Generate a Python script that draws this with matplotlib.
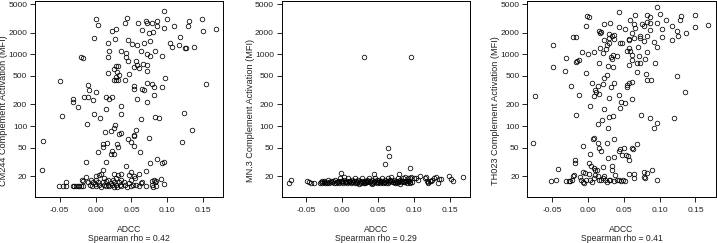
import matplotlib
matplotlib.use("Agg")
import matplotlib.pyplot as plt
from matplotlib.ticker import FixedLocator, FixedFormatter, NullLocator

narrow = ['Liberation Sans Narrow', 'Liberation Sans']
plain = ['Liberation Sans']

# CM244 vs ADCC
x1 = [
    0.096, 0.000, 0.044, 0.004, 0.070, 0.059, 0.086, 0.071, 0.100, 0.041,
    0.078, 0.085, 0.109, 0.130, 0.129, 0.149, 0.150, 0.168, 0.028, 0.023,
    0.095, 0.064, 0.075, 0.080, -0.002, 0.027, 0.045, 0.017, 0.076, 0.104,
    0.118, 0.051, 0.058, 0.067, 0.107, 0.116, 0.124, 0.126, 0.137, 0.018,
    0.035, 0.063, 0.083, 0.043, -0.020, -0.017, 0.017, 0.042, 0.071, 0.076,
    0.092, 0.056, 0.045, 0.058, 0.066, 0.071, 0.031, 0.028, 0.053, 0.072,
    0.060, 0.025, 0.017, 0.030, 0.033, 0.046, 0.028, 0.025, 0.028, 0.031,
    0.041, -0.050, 0.097, 0.154, -0.011, 0.054, 0.071, 0.079, 0.082, 0.093,
    0.054, 0.065, 0.067, -0.009, 0.000, -0.016, -0.010, 0.014, 0.023, 0.018,
    -0.003, -0.031, -0.031, 0.058, 0.071, 0.081, -0.024, 0.014, 0.036, -0.002,
    0.035, -0.047, 0.006, 0.083, 0.089, 0.123, 0.063, -0.012, 0.027, 0.025,
    0.022, 0.013, 0.057, 0.134, 0.032, 0.036, 0.053, 0.054, -0.074, 0.075,
    0.045, 0.049, 0.120, 0.016, 0.011, 0.030, 0.010, 0.053, 0.031, 0.004,
    0.023, 0.021, 0.025, 0.062, -0.014, 0.014, 0.042, 0.076, 0.086, 0.092,
    0.096, -0.075, 0.011, 0.050, 0.070, 0.091, 0.026, 0.031, 0.036, 0.046,
    0.054, 0.061, -0.013, 0.005, 0.007, 0.000,
    -0.051, -0.045, -0.041, -0.032, -0.030, -0.027, -0.025, -0.023, -0.020, -0.017,
    -0.041, -0.011, -0.008, -0.005, -0.003, -0.001, 0.001, 0.003, 0.005, 0.007,
    0.010, 0.012, 0.014, 0.015, 0.017, 0.019, 0.021, 0.023, 0.025, 0.026,
    0.028, 0.030, 0.032, 0.034, 0.036, 0.039, 0.041, 0.044, 0.047, 0.049,
    0.052, 0.056, 0.060, 0.063, 0.065, 0.070, 0.078, 0.079, 0.080, 0.083,
    0.084, 0.096, -0.019, -0.018, -0.007, 0.000, 0.012, 0.017, 0.024, 0.029,
    0.035, 0.049, 0.055, 0.082, 0.084,
]
y1 = [
    4030, 3120, 3220, 2570, 2950, 2770, 2950, 2700, 3120, 2770,
    2770, 2490, 2490, 2950, 2490, 3120, 2140, 2240, 2240, 2110,
    2340, 2170, 2010, 2050, 1670, 1640, 1600, 1460, 1520, 1460,
    1750, 1380, 1340, 1430, 1270, 1350, 1210, 1230, 1270, 1110,
    1110, 1110, 1110, 1030, 930, 900, 930, 910, 1000, 950,
    950, 817, 800, 718, 730, 700, 690, 690, 673, 592,
    640, 620, 555, 570, 515, 530, 488, 438, 438, 438,
    438, 420, 470, 385, 369, 365, 403, 392, 347, 347,
    325, 325, 317, 317, 298, 256, 256, 256, 256, 240,
    234, 237, 218, 240, 218, 270, 182, 173, 190, 147,
    147, 139, 131, 135, 129, 152, 125, 106, 102, 93,
    86, 83, 88, 88, 77, 80, 75, 73, 61, 67,
    65, 60, 60, 58, 56, 56, 51, 53, 51, 43,
    45, 41, 41, 44, 31, 31, 28, 30, 35, 30,
    31, 24, 24, 23, 23.5, 18, 21.5, 20.7, 21.5, 20.7,
    20, 21.5, 19.1, 20.7, 21.5, 20,
    14.5, 14.5, 14.5, 14.5, 14.5, 14.5, 14.5, 14.5, 14.5, 14.5,
    16.6, 16.4, 15.2, 14.5, 16.4, 15.5, 14.5, 16.4, 15.2, 14.0,
    16.4, 15.2, 14.5, 16.8, 15.2, 14.5, 16.0, 15.2, 14.2, 16.4,
    15.2, 14.2, 16.4, 15.2, 14.5, 16.4, 15.2, 14.0, 16.0, 14.5,
    15.2, 15.2, 14.5, 15.8, 16.4, 14.5, 16.8, 15.2, 14.0, 16.4,
    14.5, 15.5, 17.9, 16.8, 17.6, 17.6, 18.5, 17.6, 17.9, 18.5,
    17.6, 17.6, 18.5, 17.6, 17.2,
]

# MN.3 vs ADCC
x2 = [
    0.030, 0.096, 0.063, 0.065, 0.059, 0.095, -0.002, 0.044, 0.079, 0.108,
    0.135, 0.149, 0.168, -0.072, -0.075, 0.151, 0.154, 0.134, 0.128, 0.124,
    0.119, 0.117, 0.103, 0.094, -0.049, -0.047, -0.044, -0.040,
    -0.031, -0.030, -0.028, -0.026, -0.024, -0.022, -0.020, -0.018, -0.016, -0.014,
    -0.012, -0.010, -0.008, -0.006, -0.004, -0.003, -0.001, 0.000, 0.001, 0.002,
    0.003, 0.004, 0.006, 0.007, 0.008, 0.010, 0.011, 0.012, 0.014, 0.015,
    0.017, 0.018, 0.019, 0.021, 0.022, 0.023, 0.025, 0.026, 0.027, 0.029,
    0.031, 0.032, 0.034, 0.035, 0.037, 0.038, 0.040, 0.041, 0.042, 0.044,
    0.045, 0.046, 0.048, 0.049, 0.050, 0.052, 0.053, 0.055, 0.056, 0.058,
    0.059, 0.061, 0.062, 0.064, 0.065, 0.067, 0.068, 0.070, 0.072, 0.073,
    0.075, 0.077, 0.078, 0.080, 0.081, 0.083, 0.084, 0.086, 0.087, 0.089,
    0.090, 0.092, 0.093, 0.095, 0.096, 0.097, 0.100, 0.105, 0.115, 0.118,
    0.120, 0.122, 0.125, 0.130, 0.137,
    -0.029, -0.025, -0.021, -0.017, -0.013, -0.009, -0.005, -0.002, 0.005, 0.009,
    0.013, 0.016, 0.020, 0.024, 0.028, 0.030, 0.033, 0.036, 0.039, 0.043,
    0.047, 0.051, 0.054, 0.057, 0.060, 0.063, 0.066, 0.069, 0.071, 0.074,
    0.076, 0.079, 0.082, 0.085, 0.088, 0.091, 0.094,
]
y2 = [
    929, 929, 48.6, 38.5, 29.4, 26.1, 22.3, 21.3, 21.3, 20.1,
    18.2, 20.0, 19.1, 17.9, 16.1, 18.2, 17.0, 16.1, 19.0, 17.2,
    16.1, 19.1, 18.5, 19.0, 17.2, 16.6, 16.1, 16.1,
    16.1, 16.6, 16.1, 17.2, 16.1, 16.6, 17.9, 16.1, 17.2, 16.6,
    16.1, 17.9, 16.6, 17.2, 16.1, 18.5, 16.6, 17.2, 16.1, 19.5,
    17.9, 16.6, 17.2, 16.1, 18.5, 16.6, 17.2, 16.1, 17.9, 16.6,
    18.5, 16.1, 17.2, 16.6, 17.9, 15.6, 17.2, 16.1, 18.5, 16.6,
    17.2, 16.1, 17.9, 16.6, 18.5, 17.2, 16.1, 15.6, 17.9, 16.6,
    18.5, 17.2, 16.1, 17.9, 16.6, 17.2, 16.1, 18.5, 17.2, 16.6,
    17.9, 16.1, 17.2, 18.5, 16.6, 17.2, 19.1, 16.6, 17.9, 16.1,
    17.2, 18.5, 16.6, 17.9, 15.6, 17.2, 18.5, 16.6, 19.1, 17.2,
    16.1, 18.5, 17.2, 16.1, 19.1, 16.6, 18.5, 17.9, 18.5, 17.2,
    16.6, 17.2, 17.9, 19.5, 18.2,
    17.2, 16.6, 16.1, 16.6, 17.2, 16.1, 16.6, 17.2, 16.6, 17.2,
    16.6, 17.2, 16.1, 16.6, 17.2, 16.1, 16.6, 17.2, 16.6, 16.1,
    16.6, 17.9, 16.6, 16.1, 16.6, 16.1, 17.9, 17.2, 16.6, 16.6,
    16.1, 17.2, 16.6, 17.2, 16.6, 17.2, 16.6,
]

# TH023 vs ADCC
x3 = [
    0.097, 0.043, -0.001, 0.002, 0.066, 0.083, 0.100, 0.086, 0.130, 0.150,
    0.031, 0.023, 0.059, 0.064, 0.075, 0.083, 0.087, 0.096, 0.109, 0.129,
    0.167, 0.150, 0.117, -0.002, 0.044, 0.052, 0.066, 0.078, 0.087, 0.104,
    0.124, 0.137, 0.016, 0.017, 0.018, 0.029, 0.062, 0.072, 0.083, -0.021,
    -0.017, 0.033, 0.036, 0.064, 0.072, 0.104, 0.126, 0.029, 0.037, 0.057,
    0.022, 0.057, 0.117, 0.078, 0.030, 0.045, 0.092, 0.047, -0.049, 0.017,
    0.027, 0.058, 0.070, 0.097, 0.009, -0.008, 0.025, 0.054, 0.059, 0.083,
    0.021, 0.000, 0.035, -0.030, 0.032, 0.041, 0.062, 0.071, 0.034, -0.015,
    -0.012, -0.017, 0.062, 0.080, 0.016, 0.069, 0.072, 0.093, 0.028, 0.035,
    0.058, -0.048, -0.032, -0.002, 0.068, 0.081, 0.027, 0.124, 0.022, 0.083,
    0.088, 0.062, 0.057, 0.006, 0.036, 0.055, 0.021, -0.024, 0.014, 0.054,
    0.032, 0.010, 0.012, 0.135, 0.009, -0.012, -0.074, 0.044, 0.016, 0.029,
    0.062, 0.046, 0.052, 0.003, 0.045, 0.023, -0.016, 0.035, 0.030, 0.074,
    0.086, 0.120, 0.020, 0.014, 0.096, 0.092, 0.028, 0.009, 0.007, 0.037,
    -0.076, -0.007, 0.014, 0.027, 0.069, 0.050, 0.062, 0.063, 0.045, 0.016,
    0.018, 0.044, 0.003, 0.047, 0.036, 0.056, 0.053, 0.057, 0.028, -0.018,
    -0.018, 0.001, 0.005, 0.034, 0.021, -0.042, 0.008, 0.010, 0.013, 0.034,
    0.090, -0.007, -0.004, -0.019, -0.021, 0.001, 0.010, 0.014, 0.023, 0.038,
    0.057, 0.064, 0.078, 0.082, 0.078, 0.080, -0.052, -0.044, -0.030, -0.027,
    -0.025, -0.022, -0.011, -0.009, -0.007, -0.005, -0.002, 0.003, 0.006, 0.008,
    0.015, 0.018, 0.021, 0.024, 0.027, 0.029, 0.031, 0.036, 0.040, 0.043,
    0.046, 0.049, 0.052, 0.097, 0.064,
]
y3 = [
    4540, 3870, 3470, 3290, 3550, 3550, 3620, 3360, 3440, 3550,
    2770, 2650, 3020, 2650, 2650, 2850, 2770, 2770, 3020, 3020,
    2570, 2440, 2500, 2490, 2380, 2240, 2300, 2490, 2170, 2240,
    2140, 2010, 2110, 1970, 2030, 1950, 1970, 1820, 1800, 1730,
    1730, 1800, 1860, 1670, 1670, 1730, 1820, 1670, 1640, 1640,
    1600, 1570, 1570, 1550, 1460, 1460, 1470, 1430, 1350, 1240,
    1350, 1240, 1270, 1270, 1070, 1070, 1170, 1120, 1120, 1090,
    1030, 1000, 990, 880, 910, 960, 990, 950, 860, 806,
    840, 790, 840, 850, 750, 750, 750, 750, 690, 670,
    700, 660, 592, 555, 560, 540, 515, 500, 463, 438,
    438, 415, 394, 394, 394, 374, 385, 366, 361, 347,
    355, 318, 302, 302, 262, 270, 262, 275, 278, 248,
    235, 214, 207, 190, 180, 173, 142, 139, 135, 142,
    128, 131, 121, 106, 111, 93, 95, 69, 65, 65,
    57, 52, 57, 57, 56, 50, 50, 48, 48, 50,
    45, 45, 41, 39, 37, 38, 39, 34, 36, 33,
    30, 30, 28, 28, 27, 25, 25.6, 24, 24, 24,
    24, 23, 22, 20.7, 20, 21.5, 20.7, 20, 20, 20.7,
    21.5, 21.5, 23, 22, 19.6, 19, 17.2, 17.9, 17.0, 17.0,
    17.0, 17.9, 19.6, 17.9, 16.6, 16.1, 17.6, 17.6, 16.6, 18.5,
    17.9, 17.6, 18.5, 17.6, 16.6, 17.9, 17.6, 17.2, 17.9, 17.6,
    17.2, 17.9, 17.2, 17.9, 18.5,
]

series = [(x1, y1), (x2, y2), (x3, y3)]
ylabels = ["CM244 Complement Activation (MFI)",
           "MN.3 Complement Activation (MFI)",
           "TH023 Complement Activation (MFI)"]
rhos = [0.42, 0.29, 0.41]
yticks = [20, 50, 100, 200, 500, 1000, 2000, 5000]
xticks = [-0.05, 0.00, 0.05, 0.10, 0.15]

fig = plt.figure(figsize=(7.17, 2.43), dpi=100)
lefts = [0.0488, 0.3929, 0.7354]

for i, (xs, ys) in enumerate(series):
    ax = fig.add_axes([lefts[i], 0.1905, 0.2626, 0.8074])
    ax.plot(xs, ys, 'o', markersize=3.3, markerfacecolor='none',
            markeredgecolor='black', markeredgewidth=0.55)
    ax.set_yscale('log')
    ax.set_ylim(10.3, 5650)
    ax.set_xlim(-0.0845, 0.178)
    ax.yaxis.set_major_locator(FixedLocator(yticks))
    ax.yaxis.set_major_formatter(FixedFormatter([str(t) for t in yticks]))
    ax.yaxis.set_minor_locator(NullLocator())
    ax.set_xticks(xticks)
    ax.set_xticklabels(["%.2f" % t for t in xticks])
    for s in ax.spines.values():
        s.set_linewidth(0.7)
    ax.tick_params(length=3.6, width=0.6, labelsize=6, pad=2)
    ax.tick_params(axis='x', pad=4)
    for lab in ax.get_xticklabels() + ax.get_yticklabels():
        lab.set_family(narrow)
        lab.set_color('#222222')
    ax.set_ylabel(ylabels[i], fontsize=6.6, family=plain, color='#222222')
    ax.yaxis.label.set_va('center')
    ax.yaxis.set_label_coords(-0.168, 0.437)
    ax.set_xlabel("ADCC\nSpearman rho = %.2f" % rhos[i], fontsize=6.2,
                  family=narrow, color='#222222', linespacing=1.05)
    ax.xaxis.label.set_va('center')
    ax.xaxis.set_label_coords(0.5, -0.19)

fig.savefig("out.png", dpi=100)
